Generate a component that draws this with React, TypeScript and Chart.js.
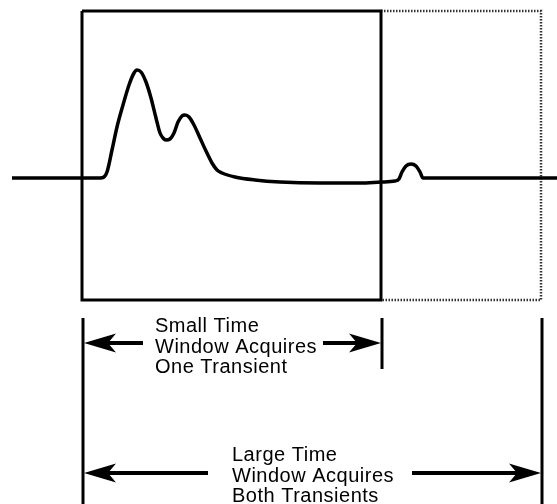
import React, { useEffect, useRef } from "react";
import { Chart, registerables } from "chart.js";

Chart.register(...registerables);

// Signal trace: time (arbitrary units) and amplitude (baseline = 0)
const signalTime = [12, 100, 104, 107, 112, 117, 123, 129, 134, 137, 141, 146, 151, 156, 160, 163, 166, 170, 174, 178, 182, 185, 189, 194, 200, 206, 212, 217, 222, 235, 255, 280, 320, 360, 381, 395, 399, 402, 406, 411, 416, 420, 423, 450, 557];
const signalAmplitude = [0, 0, 1, 6, 28, 51, 73, 93, 105, 108, 106, 96, 80, 60, 45, 40, 38, 39, 45, 56, 62, 63, 61, 53, 40, 27, 15, 8, 5, 1, -2, -4, -5, -5, -4, -3, -1, 6, 12, 14, 12, 6, 0, 0, 0];

// Acquisition windows (time) and their vertical extent (amplitude)
const smallWindow = [82, 381];
const largeWindow = [82, 541];
const windowTop = 167;
const windowBottom = -122;

// Dimension annotations
const dimensionTop = -140;
const smallTickBottom = -191;
const largeTickBottom = -326;
const smallArrowLevel = -165;
const largeArrowLevel = -295;
const smallShaftGap = [143, 323];
const largeShaftGap = [208, 412];
const smallLabel = ["Small Time", "Window Acquires", "One Transient"];
const largeLabel = ["Large Time", "Window Acquires", "Both Transients"];
const smallLabelStart = 155;
const largeLabelStart = 232;
const smallLabelBaselines = [-154, -175, -195];
const largeLabelBaselines = [-283, -304, -324];

const X_MIN = 0;
const X_MAX = 557;
const Y_MIN = -326;
const Y_MAX = 178;

function seg(x1: number, y1: number, x2: number, y2: number, width: number, color = "#000", dash: number[] = []) {
  return {
    type: "line" as const,
    data: [
      { x: x1, y: y1 },
      { x: x2, y: y2 },
    ],
    borderColor: color,
    borderWidth: width,
    borderDash: dash,
    pointRadius: 0,
    tension: 0,
    fill: false,
    clip: false as any,
  };
}

export default function App() {
  const ref = useRef<HTMLCanvasElement | null>(null);

  useEffect(() => {
    if (!ref.current) return;

    const signal = signalTime.map((t, i) => ({ x: t, y: signalAmplitude[i] }));

    const overlay = {
      id: "overlay",
      afterDatasetsDraw(chart: any) {
        const ctx = chart.ctx as CanvasRenderingContext2D;
        const xs = chart.scales.x;
        const ys = chart.scales.y;
        const px = (v: number) => xs.getPixelForValue(v);
        const py = (v: number) => ys.getPixelForValue(v);

        const arrow = (tipX: number, tipY: number, dir: number) => {
          const L = 32;
          const W = 9.5;
          const notch = 8;
          ctx.beginPath();
          ctx.moveTo(tipX, tipY);
          ctx.lineTo(tipX - dir * L, tipY - W);
          ctx.lineTo(tipX - dir * (L - notch), tipY);
          ctx.lineTo(tipX - dir * L, tipY + W);
          ctx.closePath();
          ctx.fillStyle = "#000";
          ctx.fill();
        };

        ctx.save();
        arrow(px(smallWindow[0]) + 2, py(smallArrowLevel), -1);
        arrow(px(smallWindow[1]) + 0, py(smallArrowLevel), 1);
        arrow(px(largeWindow[0]) + 2, py(largeArrowLevel), -1);
        arrow(px(largeWindow[1]) + 0, py(largeArrowLevel), 1);

        ctx.fillStyle = "#000";
        ctx.font = '20px "Liberation Sans", Arial, sans-serif';
        (ctx as any).letterSpacing = "0.5px";
        ctx.textAlign = "left";
        ctx.textBaseline = "alphabetic";
        smallLabel.forEach((s, i) => ctx.fillText(s, px(smallLabelStart), py(smallLabelBaselines[i])));
        largeLabel.forEach((s, i) => ctx.fillText(s, px(largeLabelStart), py(largeLabelBaselines[i])));
        ctx.restore();
      },
    };

    const chart = new Chart(ref.current, {
      type: "line",
      data: {
        datasets: [
          {
            type: "line",
            data: signal,
            borderColor: "#000",
            borderWidth: 3.5,
            pointRadius: 0,
            cubicInterpolationMode: "monotone",
            fill: false,
            clip: false as any,
          },
          {
            type: "line",
            data: [
              { x: smallWindow[0], y: windowTop },
              { x: smallWindow[1], y: windowTop },
              { x: smallWindow[1], y: windowBottom },
              { x: smallWindow[0], y: windowBottom },
              { x: smallWindow[0], y: windowTop },
            ],
            borderColor: "#000",
            borderWidth: 3,
            pointRadius: 0,
            tension: 0,
            fill: false,
            borderJoinStyle: "miter",
            clip: false as any,
          },
          {
            type: "line",
            data: [
              { x: smallWindow[1], y: windowTop },
              { x: largeWindow[1], y: windowTop },
              { x: largeWindow[1], y: windowBottom },
              { x: smallWindow[1], y: windowBottom },
            ],
            borderColor: "#333",
            borderWidth: 2.5,
            borderDash: [1.5, 1.5],
            pointRadius: 0,
            tension: 0,
            fill: false,
            clip: false as any,
          },
          seg(largeWindow[0] + 1, dimensionTop, largeWindow[0] + 1, largeTickBottom, 3),
          seg(smallWindow[1] + 1, dimensionTop, smallWindow[1] + 1, smallTickBottom, 3),
          seg(largeWindow[1] + 1, dimensionTop, largeWindow[1] + 1, largeTickBottom, 3),
          seg(smallWindow[0] + 10, smallArrowLevel, smallShaftGap[0], smallArrowLevel, 4),
          seg(smallShaftGap[1], smallArrowLevel, smallWindow[1] - 10, smallArrowLevel, 4),
          seg(largeWindow[0] + 10, largeArrowLevel, largeShaftGap[0], largeArrowLevel, 4),
          seg(largeShaftGap[1], largeArrowLevel, largeWindow[1] - 10, largeArrowLevel, 4),
        ] as any,
      },
      options: {
        responsive: false,
        animation: false,
        devicePixelRatio: 1,
        layout: { padding: 0 },
        plugins: { legend: { display: false }, tooltip: { enabled: false } },
        events: [],
        scales: {
          x: { type: "linear", min: X_MIN, max: X_MAX, display: false },
          y: { type: "linear", min: Y_MIN, max: Y_MAX, display: false },
        },
      },
      plugins: [overlay],
    });

    return () => chart.destroy();
  }, []);

  return (
    <div style={{ position: "fixed", left: 0, top: 0, width: 557, height: 504, background: "#fff" }}>
      <canvas ref={ref} width={557} height={504} style={{ display: "block" }} />
    </div>
  );
}
